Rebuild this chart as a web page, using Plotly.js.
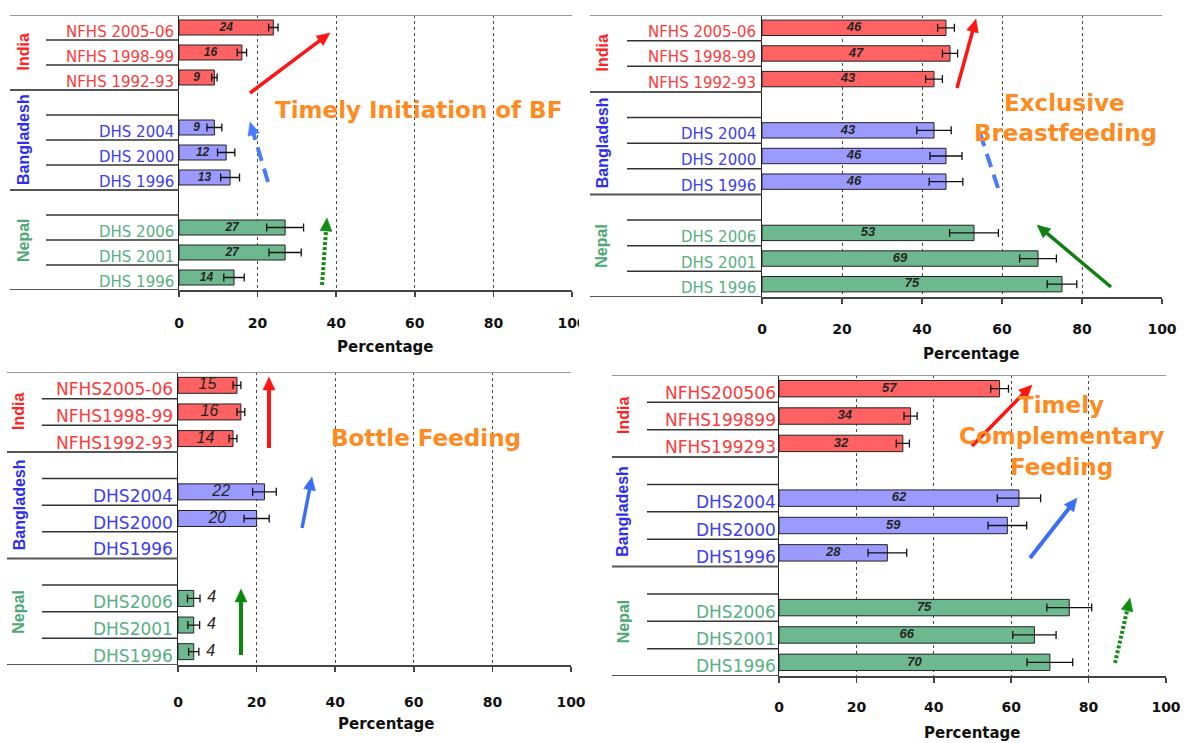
<!DOCTYPE html>
<html><head><meta charset="utf-8">
<script src="https://cdn.plot.ly/plotly-3.0.1.min.js"></script>
<style>html,body{margin:0;padding:0;background:#fff}#chart{width:1191px;height:743px}</style>
</head><body><div id="chart"></div>
<script>
// ---------------- DATA ----------------
const countries = ['India', 'Bangladesh', 'Nepal'];
const rowCountry = ['India','India','India','Bangladesh','Bangladesh','Bangladesh','Bangladesh','Nepal','Nepal','Nepal','Nepal'];
const labelsSpaced  = ['NFHS 2005-06','NFHS 1998-99','NFHS 1992-93','','DHS 2004','DHS 2000','DHS 1996','','DHS 2006','DHS 2001','DHS 1996'];
const labelsCompact = ['NFHS2005-06','NFHS1998-99','NFHS1992-93','','DHS2004','DHS2000','DHS1996','','DHS2006','DHS2001','DHS1996'];
const labelsNoDash  = ['NFHS200506','NFHS199899','NFHS199293','','DHS2004','DHS2000','DHS1996','','DHS2006','DHS2001','DHS1996'];

const tibfValues = [24, 16, 9, null, 9, 12, 13, null, 27, 27, 14];
const tibfErrors = [1.2, 1.2, 0.7, null, 1.9, 2.2, 2.4, null, 4.7, 4.1, 2.6];

const ebfValues = [46, 47, 43, null, 43, 46, 46, null, 53, 69, 75];
const ebfErrors = [2.1, 1.9, 2.1, null, 4.3, 4.0, 4.2, null, 6.1, 4.6, 3.7];

const bottleValues = [15, 16, 14, null, 22, 20, null, null, 4, 4, 4];
const bottleErrors = [1.0, 1.0, 1.0, null, 3.0, 3.2, null, null, 1.6, 1.5, 1.3];

const tcfValues = [57, 34, 32, null, 62, 59, 28, null, 75, 66, 70];
const tcfErrors = [2.3, 1.7, 1.7, null, 5.6, 5.0, 5.0, null, 5.8, 5.6, 5.9];

const xTicks = [0, 20, 40, 60, 80, 100];
const axisTitle = 'Percentage';

// ---------------- STYLE ----------------
const W = 1191, H = 743;
const PX = x => x / W;
const PY = y => 1 - y / H;

const barColors   = {India: '#FF6262', Bangladesh: '#9A9AFF', Nepal: '#6DB88F'};
const labelColors = {India: '#FF3A3A', Bangladesh: '#3D3DF5', Nepal: '#58B082'};
const groupColors = {India: '#FF2222', Bangladesh: '#2E2EEE', Nepal: '#4CA874'};
const ORANGE = '#FF8A1F';
const FONT = 'DejaVu Sans, Verdana, sans-serif';

const panels = [
  {values: tibfValues, errors: tibfErrors, labels: labelsSpaced,
   x0: 179, x1: 572, top: 15, bottom: 290, groupStart: 10, catStart: 46, groupX: 23, labelRight: 176,
   labelSize: 15, groupSize: 15, valSize: 12, valBold: true, standoff: 14, pctX: 385, pctY: 347},
  {values: ebfValues, errors: ebfErrors, labels: labelsSpaced,
   x0: 762, x1: 1162, top: 15, bottom: 297, groupStart: 590, catStart: 627, groupX: 602, labelRight: 758,
   labelSize: 15, groupSize: 15, valSize: 13, valBold: true, standoff: 13, pctX: 971, pctY: 354},
  {values: bottleValues, errors: bottleErrors, labels: labelsCompact,
   x0: 178, x1: 571, top: 372, bottom: 665, groupStart: 7, catStart: 42, groupX: 19, labelRight: 175,
   labelSize: 17, groupSize: 15, valSize: 16, valBold: false, standoff: 18, pctX: 386, pctY: 724},
  {values: tcfValues, errors: tcfErrors, labels: labelsNoDash,
   x0: 779, x1: 1166, top: 375, bottom: 676, groupStart: 612, catStart: 647, groupX: 623, labelRight: 778,
   labelSize: 17, groupSize: 15, valSize: 13, valBold: true, standoff: 12, pctX: 972, pctY: 733}
];

const rowIdx = rowCountry.map((_, i) => i);
const traces = [];
const layout = {
  width: W, height: H, margin: {l: 0, r: 0, t: 0, b: 0},
  paper_bgcolor: '#fff', plot_bgcolor: 'rgba(0,0,0,0)',
  showlegend: false, annotations: [], shapes: []
};

panels.forEach((p, k) => {
  const s = k === 0 ? '' : String(k + 1);
  const xa = 'x' + s, ya = 'y' + s;

  traces.push({
    type: 'bar', orientation: 'h', x: p.values, y: rowIdx, xaxis: xa, yaxis: ya,
    width: 0.6,
    marker: {color: rowCountry.map(c => barColors[c]), line: {color: '#222', width: 1}},
    error_x: {type: 'data', array: p.errors, visible: true, color: '#111', thickness: 1.3, width: 4},
    hoverinfo: 'skip'
  });

  const tx = [], ty = [], tt = [];
  p.values.forEach((v, i) => {
    if (v === null) return;
    tx.push(v < 8 ? v + (p.errors[i] || 0) + 3 : v / 2);
    ty.push(i);
    tt.push(p.valBold ? '<b><i>' + v + '</i></b>' : '<i>' + v + '</i>');
  });
  traces.push({
    type: 'scatter', mode: 'text', x: tx, y: ty, text: tt, xaxis: xa, yaxis: ya,
    textposition: 'middle center', cliponaxis: false,
    textfont: {family: 'Arial, Liberation Sans, sans-serif', size: p.valSize, color: '#262626'},
    hoverinfo: 'skip'
  });

  layout['xaxis' + s] = {
    domain: [PX(p.x0), PX(p.x1)], range: [0, 100], anchor: ya,
    tickvals: xTicks, ticktext: xTicks.map(String),
    showgrid: true, gridcolor: '#4a4a4a', griddash: 'dot', gridwidth: 1,
    zeroline: false, showline: true, linecolor: '#444', linewidth: 2,
    ticks: 'outside', ticklen: 5, tickcolor: '#444', tickwidth: 1.5,
    tickfont: {family: FONT, size: 14, color: '#111', weight: 'bold'},
    ticklabelstandoff: p.standoff, fixedrange: true
  };
  layout['yaxis' + s] = {
    domain: [PY(p.bottom), PY(p.top)], range: [10.5, -0.5], anchor: xa,
    showline: true, linecolor: '#222', linewidth: 1.5,
    showticklabels: false, showgrid: false, zeroline: false, ticks: '', fixedrange: true
  };

  // row separators in the label area
  const bounds = [-0.5];
  for (let i = 0; i < rowCountry.length - 1; i++) bounds.push(i + 0.5);
  bounds.push(rowCountry.length - 0.5);
  bounds.forEach(b => {
    const isTop = b === -0.5;
    const isBottom = b === rowCountry.length - 0.5;
    const below = Math.ceil(b), above = Math.floor(b);
    const isGroup = isTop || isBottom || rowCountry[above] !== rowCountry[below];
    if (isTop) {
      layout.shapes.push({type: 'line', xref: 'paper', yref: ya, x0: PX(p.groupStart), x1: PX(p.x1),
        y0: b, y1: b, line: {color: '#9a9a9a', width: 2}});
    } else {
      layout.shapes.push({type: 'line', xref: 'paper', yref: ya,
        x0: PX(isGroup ? p.groupStart : p.catStart), x1: PX(p.x0), y0: b, y1: b,
        line: {color: isGroup ? '#555' : '#333', width: isGroup ? 2 : 1.5}});
    }
  });

  // category labels
  p.labels.forEach((lab, i) => {
    if (!lab) return;
    layout.annotations.push({text: lab, xref: 'paper', yref: ya, x: PX(p.labelRight), y: i,
      xanchor: 'right', yanchor: 'middle', yshift: -4, showarrow: false,
      font: {family: FONT, size: p.labelSize, color: labelColors[rowCountry[i]]}});
  });

  // country group labels
  countries.forEach(c => {
    const idx = rowIdx.filter(i => rowCountry[i] === c);
    const mid = (idx[0] + idx[idx.length - 1]) / 2;
    layout.annotations.push({text: c, xref: 'paper', yref: ya, x: PX(p.groupX), y: mid,
      xanchor: 'center', yanchor: 'middle', textangle: -90, showarrow: false,
      font: {family: 'Arial, Liberation Sans, sans-serif', size: p.groupSize + 1, color: groupColors[c], weight: 'bold'}});
  });

  // axis title
  layout.annotations.push({text: axisTitle, xref: 'paper', yref: 'paper', x: PX(p.pctX), y: PY(p.pctY),
    xanchor: 'center', yanchor: 'middle', showarrow: false,
    font: {family: FONT, size: 15, color: '#111', weight: 'bold'}});
});

// orange panel titles
const titleTexts = [
  ['Timely Initiation of BF', 418, 110],
  ['Exclusive', 1064, 103], ['Breastfeeding', 1065, 133],
  ['Bottle Feeding', 426, 438],
  ['Timely', 1061, 405], ['Complementary', 1061, 436], ['Feeding', 1061, 467]
];

// trend arrows (decorations, pixel coordinates)
function arrow(x0, y0, x1, y1, color, width, dash, head) {
  const dx = x1 - x0, dy = y1 - y0, len = Math.hypot(dx, dy);
  const ux = dx / len, uy = dy / len;
  const L = head ? 13 : 0, Wd = 12;
  const bx = x1 - ux * L, by = y1 - uy * L;
  layout.shapes.push({type: 'line', xref: 'paper', yref: 'paper', layer: 'above',
    x0: PX(x0), y0: PY(y0), x1: PX(head ? bx + ux * 1 : x1), y1: PY(head ? by + uy * 1 : y1),
    line: {color: color, width: width, dash: dash}});
  if (head) {
    const nx = -uy, ny = ux;
    const pts = [[x1, y1], [bx + nx * Wd / 2, by + ny * Wd / 2], [bx - nx * Wd / 2, by - ny * Wd / 2]];
    const path = 'M' + pts.map(q => PX(q[0]).toFixed(5) + ',' + PY(q[1]).toFixed(5)).join(' L') + ' Z';
    layout.shapes.push({type: 'path', xref: 'paper', yref: 'paper', layer: 'above', path: path,
      fillcolor: color, line: {color: color, width: 0.5}});
  }
}
arrow(250, 93, 330, 33, '#FF1414', 3.5, 'solid', true);
arrow(268, 182, 250, 122, '#4A7BFF', 4, '14px,8px', true);
arrow(322, 285, 327, 218, '#138C13', 4, '3px,2px', true);

arrow(957, 88, 976, 19, '#FF1414', 3.5, 'solid', true);
arrow(998, 188, 978, 127, '#4A7BFF', 4, '14px,8px', false);
arrow(1111, 287, 1037, 225, '#118011', 3.5, 'solid', true);

arrow(269, 448, 269, 377, '#FF1414', 4, 'solid', true);
arrow(302, 528, 312, 477, '#3B6EF5', 3.5, 'solid', true);
arrow(241, 655, 241, 589, '#0A8A0A', 4, 'solid', true);

arrow(972, 446, 1032, 385, '#FF1414', 3.5, 'solid', true);
arrow(1030, 558, 1077, 498, '#3B6EF5', 4, 'solid', true);
arrow(1115, 663, 1130, 598, '#138C13', 4, '3px,2px', true);

titleTexts.forEach(t => {
  layout.annotations.push({text: t[0], xref: 'paper', yref: 'paper', x: PX(t[1]), y: PY(t[2]),
    xanchor: 'center', yanchor: 'middle', showarrow: false,
    font: {family: FONT, size: 23, color: ORANGE, weight: 'bold'}});
});

// the reference image is cropped right of the first panel
layout.shapes.push({type: 'rect', xref: 'paper', yref: 'paper', layer: 'above',
  x0: PX(579), x1: PX(589), y0: PY(335), y1: PY(305), fillcolor: '#fff', line: {width: 0}});

Plotly.newPlot('chart', traces, layout, {staticPlot: true, displayModeBar: false});
</script>
</body></html>
